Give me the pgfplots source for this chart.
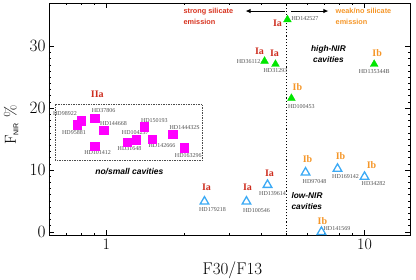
\documentclass[border=0pt]{standalone}
\usepackage{pgfplots}
\pgfplotsset{compat=1.18}
\usepackage{fontspec}
\newfontfamily\arialf{Liberation Sans}
\newfontfamily\timesf{Liberation Serif}
\usetikzlibrary{arrows.meta,calc}
\definecolor{ptgreen}{RGB}{0,230,0}
\definecolor{ptblue}{RGB}{60,170,245}
\definecolor{ptmag}{RGB}{255,0,255}
\definecolor{iared}{RGB}{205,45,30}
\definecolor{iborange}{RGB}{245,150,40}
\definecolor{txtred}{RGB}{215,50,30}
\definecolor{hdgray}{RGB}{80,80,80}
\begin{document}
\begin{tikzpicture}[
  nm/.style={font=\timesf\fontsize{6}{6}\selectfont, text=hdgray, inner sep=0pt},
  ia/.style={font=\timesf\bfseries\fontsize{10}{10}\selectfont, text=iared, inner sep=0pt},
  ib/.style={font=\timesf\bfseries\fontsize{10}{10}\selectfont, text=iborange, inner sep=0pt}
]
\begin{axis}[
  scale only axis, width=361pt, height=232pt,
  xmode=log, xmin=0.6, xmax=15, ymin=-0.5, ymax=37,
  xtick={1,10}, xticklabels={1,10},
  minor xtick={0.7,0.8,0.9,2,3,4,5,6,7,8,9},
  ytick={0,10,20,30}, minor y tick num=9,
  tick align=inside, major tick length=5pt, minor tick length=2.5pt,
  axis line style={line width=0.8pt}, every tick/.style={line width=0.7pt},
  ticklabel style={font=\fontsize{16}{16}\selectfont},
  xlabel={F30/F13}, ylabel={$\mathrm{F}_{\mbox{\arialf\fontsize{7}{7}\selectfont NIR}}$ \%},
  xlabel style={font=\fontsize{17}{17}\selectfont, at={(axis description cs:0.508,-0.151)}, anchor=center},
  ylabel style={font=\fontsize{16}{16}\selectfont, at={(axis description cs:-0.105,0.474)}, anchor=center},
  clip=false,
]
\coordinate (bl) at (rel axis cs:0,0);
\coordinate (tr) at (rel axis cs:1,1);
\draw[dotted, line width=1.1pt] (axis cs:5,-0.5) -- (axis cs:5,37);
\draw[dashed, dash pattern=on 1.5pt off 1pt, gray!60!black, line width=0.6pt] (axis cs:0.634,11.5) rectangle (axis cs:2.355,20.7);
\draw[-{Latex[length=5pt,width=4.5pt]}, line width=1pt] (axis cs:4.94,35.7) -- (axis cs:3.46,35.7);
\draw[-{Latex[length=5pt,width=4.5pt]}, line width=1pt] (axis cs:5.17,35.7) -- (axis cs:7.25,35.7);

% IIa: no/small cavities
\addplot[only marks, mark=square*, mark size=4.2pt, color=ptmag] coordinates {
 (0.798,18.0) (0.770,17.3) (0.901,18.4) (0.976,16.4) (0.901,13.9) (1.203,14.5)
 (1.303,14.9) (1.404,17.0) (1.503,15.0) (1.807,15.8) (2.005,13.6)};
% high-NIR cavities
\addplot[only marks, mark=triangle*, mark size=4.5pt, color=ptgreen] coordinates {
 (5.03,34.3) (4.10,27.6) (4.52,27.1) (10.9,27.1) (5.21,21.6)};
% low-NIR cavities
\addplot[only marks, mark=triangle, mark size=5pt, mark options={draw=ptblue, fill=white, line width=1.3pt}] coordinates {
 (2.40,4.9) (3.49,4.9) (4.21,7.6) (5.91,9.6) (7.86,10.2) (10.0,8.9) (6.81,0)};

\node[font=\arialf\bfseries\fontsize{7.3}{11}\selectfont, text=txtred, anchor=west, align=left, inner sep=0pt] at (axis cs:1.99,34.8) {strong silicate\\emission};
\node[font=\arialf\bfseries\fontsize{7.3}{11}\selectfont, text=iborange, anchor=west, align=left, inner sep=0pt] at (axis cs:7.72,34.8) {weak/no silicate\\emission};
\node[font=\arialf\bfseries\itshape\fontsize{8.3}{11}\selectfont, align=center, inner sep=0pt] at (axis cs:7.25,28.8) {high-NIR\\cavities};
\node[font=\arialf\bfseries\itshape\fontsize{8.3}{11}\selectfont, anchor=west, align=left, inner sep=0pt] at (axis cs:5.21,5.0) {low-NIR\\cavities};
\node[font=\arialf\bfseries\itshape\fontsize{8.5}{9}\selectfont, inner sep=0pt] at (axis cs:1.228,9.7) {no/small cavities};
\node[ia] at (axis cs:0.923,22.2) {IIa};

% green labels
\node[ia, xshift=-10pt, yshift=-3.5pt] at (axis cs:5.03,34.3) {Ia};
\node[nm, anchor=west, xshift=4pt, yshift=1.5pt] at (axis cs:5.03,34.3) {HD142527};
\node[ia, xshift=-5pt, yshift=10pt] at (axis cs:4.10,27.6) {Ia};
\node[nm, anchor=east, xshift=-4pt] at (axis cs:4.10,27.6) {HD36112};
\node[ia, xshift=-1pt, yshift=11pt] at (axis cs:4.52,27.1) {Ia};
\node[nm, yshift=-6pt] at (axis cs:4.52,27.1) {HD31293};
\node[ib, xshift=3pt, yshift=11pt] at (axis cs:10.9,27.1) {Ib};
\node[nm, yshift=-7pt] at (axis cs:10.9,27.1) {HD135344B};
\node[ib, xshift=6pt, yshift=11pt] at (axis cs:5.21,21.6) {Ib};
\node[nm, xshift=10pt, yshift=-8pt] at (axis cs:5.21,21.6) {HD100453};
% blue labels
\node[ia, xshift=2pt, yshift=14pt] at (axis cs:2.40,4.9) {Ia};
\node[nm, xshift=8pt, yshift=-8pt] at (axis cs:2.40,4.9) {HD179218};
\node[ia, xshift=1pt, yshift=14pt] at (axis cs:3.49,4.9) {Ia};
\node[nm, xshift=10pt, yshift=-9pt] at (axis cs:3.49,4.9) {HD100546};
\node[ia, xshift=2pt, yshift=12pt] at (axis cs:4.21,7.6) {Ia};
\node[nm, xshift=5pt, yshift=-9pt] at (axis cs:4.21,7.6) {HD139614};
\node[ib, xshift=2pt, yshift=13pt] at (axis cs:5.91,9.6) {Ib};
\node[nm, xshift=9pt, yshift=-9pt] at (axis cs:5.91,9.6) {HD97048};
\node[ib, xshift=3pt, yshift=13pt] at (axis cs:7.86,10.2) {Ib};
\node[nm, xshift=8pt, yshift=-8pt] at (axis cs:7.86,10.2) {HD169142};
\node[ib, xshift=7pt, yshift=12pt] at (axis cs:10.0,8.9) {Ib};
\node[nm, xshift=9pt, yshift=-7pt] at (axis cs:10.0,8.9) {HD34282};
\node[ib, xshift=1pt, yshift=11pt] at (axis cs:6.81,0) {Ib};
\node[nm, anchor=west, xshift=2pt, yshift=3pt] at (axis cs:6.81,0) {HD141569};
% magenta labels
\node[nm, anchor=east, xshift=-4pt, yshift=7pt] at (axis cs:0.798,18.0) {HD98922};
\node[nm, xshift=-3pt, yshift=-7.7pt] at (axis cs:0.770,17.3) {HD95881};
\node[nm, xshift=9pt, yshift=7.6pt] at (axis cs:0.901,18.4) {HD37806};
\node[nm, xshift=10pt, yshift=7.4pt] at (axis cs:0.976,16.4) {HD144668};
\node[nm, xshift=3pt, yshift=-6.7pt] at (axis cs:0.901,13.9) {HD101412};
\node[nm, xshift=2.5pt, yshift=-6.7pt] at (axis cs:1.203,14.5) {HD31648};
\node[nm, xshift=-0.7pt, yshift=6.7pt] at (axis cs:1.303,14.9) {HD104237};
\node[nm, xshift=10pt, yshift=6.6pt] at (axis cs:1.404,17.0) {HD150193};
\node[nm, xshift=10pt, yshift=-6.4pt] at (axis cs:1.503,15.0) {HD142666};
\node[nm, xshift=12pt, yshift=7pt] at (axis cs:1.807,15.8) {HD144432S};
\node[nm, xshift=4pt, yshift=-7.4pt] at (axis cs:2.005,13.6) {HD163296};
\end{axis}
\pgfresetboundingbox
\path[use as bounding box] ($(bl)+(-49pt,-45pt)$) rectangle ($(tr)+(6pt,3pt)$);
\end{tikzpicture}
\end{document}
